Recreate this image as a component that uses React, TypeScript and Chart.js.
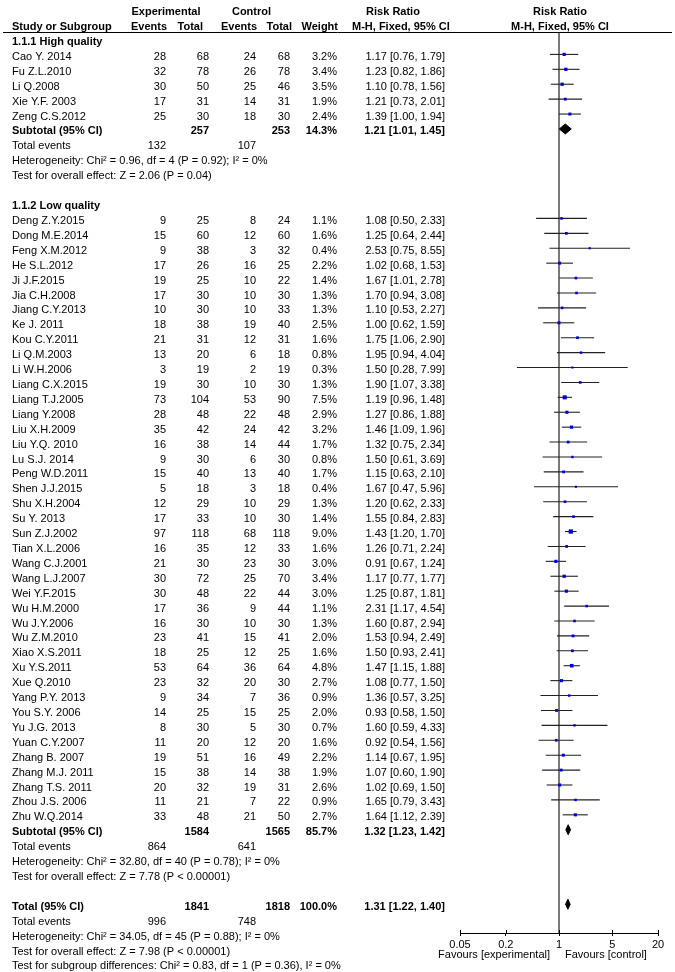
import { useEffect, useRef } from "react";
import { Chart, registerables } from "chart.js";

Chart.register(...registerables);

// ---------- data ----------
const groupLabels = ["1.1.1 High quality", "1.1.2 Low quality"];

const studyNames = [
  "Cao Y. 2014", "Fu Z.L.2010", "Li Q.2008", "Xie Y.F. 2003", "Zeng C.S.2012",
  "Deng Z.Y.2015", "Dong M.E.2014", "Feng X.M.2012", "He S.L.2012", "Ji J.F.2015",
  "Jia C.H.2008", "Jiang C.Y.2013", "Ke J. 2011", "Kou C.Y.2011", "Li Q.M.2003",
  "Li W.H.2006", "Liang C.X.2015", "Liang T.J.2005", "Liang Y.2008", "Liu X.H.2009",
  "Liu Y.Q. 2010", "Lu S.J. 2014", "Peng W.D.2011", "Shen J.J.2015", "Shu X.H.2004",
  "Su Y. 2013", "Sun Z.J.2002", "Tian X.L.2006", "Wang C.J.2001", "Wang L.J.2007",
  "Wei Y.F.2015", "Wu H.M.2000", "Wu J.Y.2006", "Wu Z.M.2010", "Xiao X.S.2011",
  "Xu Y.S.2011", "Xue Q.2010", "Yang P.Y. 2013", "You S.Y. 2006", "Yu J.G. 2013",
  "Yuan C.Y.2007", "Zhang B. 2007", "Zhang M.J. 2011", "Zhang T.S. 2011", "Zhou J.S. 2006",
  "Zhu W.Q.2014",
];
const studyGroup = [
  0, 0, 0, 0, 0,
  1, 1, 1, 1, 1, 1, 1, 1, 1, 1, 1, 1, 1, 1, 1, 1, 1, 1, 1, 1, 1,
  1, 1, 1, 1, 1, 1, 1, 1, 1, 1, 1, 1, 1, 1, 1, 1, 1, 1, 1, 1,
];
const expEvents = [
  28, 32, 30, 17, 25,
  9, 15, 9, 17, 19, 17, 10, 18, 21, 13, 3, 19, 73, 28, 35, 16, 9, 15, 5, 12, 17,
  97, 16, 21, 30, 30, 17, 16, 23, 18, 53, 23, 9, 14, 8, 11, 19, 15, 20, 11, 33,
];
const expTotals = [
  68, 78, 50, 31, 30,
  25, 60, 38, 26, 25, 30, 30, 38, 31, 20, 19, 30, 104, 48, 42, 38, 30, 40, 18, 29, 33,
  118, 35, 30, 72, 48, 36, 30, 41, 25, 64, 32, 34, 25, 30, 20, 51, 38, 32, 21, 48,
];
const ctrlEvents = [
  24, 26, 25, 14, 18,
  8, 12, 3, 16, 10, 10, 10, 19, 12, 6, 2, 10, 53, 22, 24, 14, 6, 13, 3, 10, 10,
  68, 12, 23, 25, 22, 9, 10, 15, 12, 36, 20, 7, 15, 5, 12, 16, 14, 19, 7, 21,
];
const ctrlTotals = [
  68, 78, 46, 31, 30,
  24, 60, 32, 25, 22, 30, 33, 40, 31, 18, 19, 30, 90, 48, 42, 44, 30, 40, 18, 29, 30,
  118, 33, 30, 70, 44, 44, 30, 41, 25, 64, 30, 36, 25, 30, 20, 49, 38, 31, 22, 50,
];
const weights = [
  3.2, 3.4, 3.5, 1.9, 2.4,
  1.1, 1.6, 0.4, 2.2, 1.4, 1.3, 1.3, 2.5, 1.6, 0.8, 0.3, 1.3, 7.5, 2.9, 3.2, 1.7, 0.8, 1.7, 0.4, 1.3, 1.4,
  9.0, 1.6, 3.0, 3.4, 3.0, 1.1, 1.3, 2.0, 1.6, 4.8, 2.7, 0.9, 2.0, 0.7, 1.6, 2.2, 1.9, 2.6, 0.9, 2.7,
];
const riskRatios = [
  1.17, 1.23, 1.10, 1.21, 1.39,
  1.08, 1.25, 2.53, 1.02, 1.67, 1.70, 1.10, 1.00, 1.75, 1.95, 1.50, 1.90, 1.19, 1.27, 1.46, 1.32, 1.50, 1.15, 1.67, 1.20, 1.55,
  1.43, 1.26, 0.91, 1.17, 1.25, 2.31, 1.60, 1.53, 1.50, 1.47, 1.08, 1.36, 0.93, 1.60, 0.92, 1.14, 1.07, 1.02, 1.65, 1.64,
];
const ciLower = [
  0.76, 0.82, 0.78, 0.73, 1.00,
  0.50, 0.64, 0.75, 0.68, 1.01, 0.94, 0.53, 0.62, 1.06, 0.94, 0.28, 1.07, 0.96, 0.86, 1.09, 0.75, 0.61, 0.63, 0.47, 0.62, 0.84,
  1.20, 0.71, 0.67, 0.77, 0.87, 1.17, 0.87, 0.94, 0.93, 1.15, 0.77, 0.57, 0.58, 0.59, 0.54, 0.67, 0.60, 0.69, 0.79, 1.12,
];
const ciUpper = [
  1.79, 1.86, 1.56, 2.01, 1.94,
  2.33, 2.44, 8.55, 1.53, 2.78, 3.08, 2.27, 1.59, 2.90, 4.04, 7.99, 3.38, 1.48, 1.88, 1.96, 2.34, 3.69, 2.10, 5.96, 2.33, 2.83,
  1.70, 2.24, 1.24, 1.77, 1.81, 4.54, 2.94, 2.49, 2.41, 1.88, 1.50, 3.25, 1.50, 4.33, 1.56, 1.95, 1.90, 1.50, 3.43, 2.39,
];

const subtotalExpTotals = [257, 1584];
const subtotalCtrlTotals = [253, 1565];
const subtotalWeights = [14.3, 85.7];
const subtotalRR = [1.21, 1.32];
const subtotalLower = [1.01, 1.23];
const subtotalUpper = [1.45, 1.42];
const subtotalExpEvents = [132, 864];
const subtotalCtrlEvents = [107, 641];
const heterogeneityTexts = [
  "Heterogeneity: Chi\u00b2 = 0.96, df = 4 (P = 0.92); I\u00b2 = 0%",
  "Heterogeneity: Chi\u00b2 = 32.80, df = 40 (P = 0.78); I\u00b2 = 0%",
];
const overallEffectTexts = [
  "Test for overall effect: Z = 2.06 (P = 0.04)",
  "Test for overall effect: Z = 7.78 (P < 0.00001)",
];

const totalExpTotal = 1841;
const totalCtrlTotal = 1818;
const totalWeight = 100.0;
const totalRR = 1.31;
const totalLower = 1.22;
const totalUpper = 1.40;
const totalExpEvents = 996;
const totalCtrlEvents = 748;
const totalHeterogeneity = "Heterogeneity: Chi\u00b2 = 34.05, df = 45 (P = 0.88); I\u00b2 = 0%";
const totalOverall = "Test for overall effect: Z = 7.98 (P < 0.00001)";
const subgroupDiffText = "Test for subgroup differences: Chi\u00b2 = 0.83, df = 1 (P = 0.36), I\u00b2 = 0%";

const axisTicks = [0.05, 0.2, 1, 5, 20];
const favoursLeft = "Favours [experimental]";
const favoursRight = "Favours [control]";

// ---------- layout ----------
const FONT = '"Liberation Sans", Arial, sans-serif';
const ROW0 = 39.5;
const ROW_PX = 14.91;
const AREA_TOP = 32;
const AREA_BOTTOM = 933;
const Y_MIN = (AREA_TOP - ROW0) / ROW_PX;
const Y_MAX = (AREA_BOTTOM - ROW0) / ROW_PX;
const DIAMOND_H = 5 / ROW_PX;

const COL = { name: 12, expE: 166, expT: 209, ctlE: 256, ctlT: 290, w: 337, ci: 445 };

type Cell = { t: string; x: number; a: CanvasTextAlign; b?: boolean };
type Row = { r: number; cells: Cell[] };

const fmtCI = (rr: number, lo: number, hi: number) =>
  `${rr.toFixed(2)} [${lo.toFixed(2)}, ${hi.toFixed(2)}]`;
const fmtW = (w: number) => `${w.toFixed(1)}%`;

const rows: Row[] = [];
const studyRows: number[] = [];
const diamondRows: { r: number; rr: number; lo: number; hi: number }[] = [];

rows.push({
  r: -2,
  cells: [
    { t: "Experimental", x: 166, a: "center", b: true },
    { t: "Control", x: 251.5, a: "center", b: true },
    { t: "Risk Ratio", x: 393, a: "center", b: true },
    { t: "Risk Ratio", x: 560, a: "center", b: true },
  ],
});
rows.push({
  r: -1,
  cells: [
    { t: "Study or Subgroup", x: 12, a: "left", b: true },
    { t: "Events", x: 167, a: "right", b: true },
    { t: "Total", x: 203, a: "right", b: true },
    { t: "Events", x: 257, a: "right", b: true },
    { t: "Total", x: 292, a: "right", b: true },
    { t: "Weight", x: 338, a: "right", b: true },
    { t: "M-H, Fixed, 95% CI", x: 352, a: "left", b: true },
    { t: "M-H, Fixed, 95% CI", x: 560, a: "center", b: true },
  ],
});

let cur = 0;
groupLabels.forEach((label, g) => {
  rows.push({ r: cur, cells: [{ t: label, x: COL.name, a: "left", b: true }] });
  cur++;
  studyNames.forEach((name, i) => {
    if (studyGroup[i] !== g) return;
    studyRows[i] = cur;
    rows.push({
      r: cur,
      cells: [
        { t: name, x: COL.name, a: "left" },
        { t: String(expEvents[i]), x: COL.expE, a: "right" },
        { t: String(expTotals[i]), x: COL.expT, a: "right" },
        { t: String(ctrlEvents[i]), x: COL.ctlE, a: "right" },
        { t: String(ctrlTotals[i]), x: COL.ctlT, a: "right" },
        { t: fmtW(weights[i]), x: COL.w, a: "right" },
        { t: fmtCI(riskRatios[i], ciLower[i], ciUpper[i]), x: COL.ci, a: "right" },
      ],
    });
    cur++;
  });
  diamondRows.push({ r: cur, rr: subtotalRR[g], lo: subtotalLower[g], hi: subtotalUpper[g] });
  rows.push({
    r: cur,
    cells: [
      { t: "Subtotal (95% CI)", x: COL.name, a: "left", b: true },
      { t: String(subtotalExpTotals[g]), x: COL.expT, a: "right", b: true },
      { t: String(subtotalCtrlTotals[g]), x: COL.ctlT, a: "right", b: true },
      { t: fmtW(subtotalWeights[g]), x: COL.w, a: "right", b: true },
      { t: fmtCI(subtotalRR[g], subtotalLower[g], subtotalUpper[g]), x: COL.ci, a: "right", b: true },
    ],
  });
  cur++;
  rows.push({
    r: cur,
    cells: [
      { t: "Total events", x: COL.name, a: "left" },
      { t: String(subtotalExpEvents[g]), x: COL.expE, a: "right" },
      { t: String(subtotalCtrlEvents[g]), x: COL.ctlE, a: "right" },
    ],
  });
  cur++;
  rows.push({ r: cur, cells: [{ t: heterogeneityTexts[g], x: COL.name, a: "left" }] });
  cur++;
  rows.push({ r: cur, cells: [{ t: overallEffectTexts[g], x: COL.name, a: "left" }] });
  cur++;
  cur++; // blank line
});

diamondRows.push({ r: cur, rr: totalRR, lo: totalLower, hi: totalUpper });
rows.push({
  r: cur,
  cells: [
    { t: "Total (95% CI)", x: COL.name, a: "left", b: true },
    { t: String(totalExpTotal), x: COL.expT, a: "right", b: true },
    { t: String(totalCtrlTotal), x: COL.ctlT, a: "right", b: true },
    { t: fmtW(totalWeight), x: COL.w, a: "right", b: true },
    { t: fmtCI(totalRR, totalLower, totalUpper), x: COL.ci, a: "right", b: true },
  ],
});
cur++;
rows.push({
  r: cur,
  cells: [
    { t: "Total events", x: COL.name, a: "left" },
    { t: String(totalExpEvents), x: COL.expE, a: "right" },
    { t: String(totalCtrlEvents), x: COL.ctlE, a: "right" },
  ],
});
cur++;
rows.push({ r: cur, cells: [{ t: totalHeterogeneity, x: COL.name, a: "left" }] });
cur++;
rows.push({ r: cur, cells: [{ t: totalOverall, x: COL.name, a: "left" }] });
cur++;
rows.push({ r: cur, cells: [{ t: subgroupDiffText, x: COL.name, a: "left" }] });

const squareRadius = (w: number) => (1.6 + 0.9 * Math.sqrt(w)) / Math.SQRT2;

const tablePlugin = {
  id: "forestTable",
  afterDraw(chart: any) {
    const ctx: CanvasRenderingContext2D = chart.ctx;
    const ys = chart.scales.y;
    const xs = chart.scales.x;
    const area = chart.chartArea;
    ctx.save();
    ctx.fillStyle = "#000";
    ctx.textBaseline = "middle";
    rows.forEach((row) => {
      const py = ys.getPixelForValue(row.r) + 2.5;
      row.cells.forEach((c) => {
        ctx.font = `${c.b ? "bold " : ""}11px ${FONT}`;
        ctx.textAlign = c.a;
        ctx.fillText(c.t, c.x, py);
      });
    });
    // header rule
    ctx.strokeStyle = "#000";
    ctx.lineWidth = 1;
    ctx.beginPath();
    ctx.moveTo(3, Math.round(area.top) + 0.5);
    ctx.lineTo(672, Math.round(area.top) + 0.5);
    ctx.stroke();
    // upward halves of axis ticks
    ctx.beginPath();
    axisTicks.forEach((v) => {
      const px = Math.round(xs.getPixelForValue(v)) + 0.5;
      ctx.moveTo(px, area.bottom - 3);
      ctx.lineTo(px, area.bottom);
    });
    ctx.stroke();
    // favours labels
    const one = xs.getPixelForValue(1);
    ctx.font = `11px ${FONT}`;
    ctx.textAlign = "right";
    ctx.fillText(favoursLeft, one - 9, area.bottom + 21.5);
    ctx.textAlign = "left";
    ctx.fillText(favoursRight, one + 6, area.bottom + 21.5);
    ctx.restore();
  },
};

export default function App() {
  const ref = useRef<HTMLCanvasElement>(null);
  useEffect(() => {
    document.body.style.margin = "0";
    const canvas = ref.current;
    if (!canvas) return;

    const datasets: any[] = [];
    // squares (first = drawn on top)
    datasets.push({
      data: studyNames.map((_, i) => ({ x: riskRatios[i], y: studyRows[i] })),
      pointStyle: "rect",
      pointRadius: (c: any) => squareRadius(weights[c.dataIndex] ?? 1),
      pointBackgroundColor: "#0000dd",
      pointBorderWidth: 0,
      showLine: false,
    });
    diamondRows.forEach((d) => {
      datasets.push({
        data: [
          { x: d.lo, y: d.r },
          { x: d.rr, y: d.r - DIAMOND_H },
          { x: d.hi, y: d.r },
          { x: d.rr, y: d.r + DIAMOND_H },
          { x: d.lo, y: d.r },
        ],
        showLine: true,
        fill: "shape",
        backgroundColor: "#000",
        borderColor: "#000",
        borderWidth: 1,
        pointRadius: 0,
        tension: 0,
      });
    });
    studyNames.forEach((_, i) => {
      datasets.push({
        data: [
          { x: ciLower[i], y: studyRows[i] },
          { x: ciUpper[i], y: studyRows[i] },
        ],
        showLine: true,
        borderColor: "#222",
        borderWidth: 1.1,
        pointRadius: 0,
      });
    });
    // line of no effect
    datasets.push({
      data: [
        { x: 1, y: Y_MIN },
        { x: 1, y: Y_MAX },
      ],
      showLine: true,
      borderColor: "#222",
      borderWidth: 1.2,
      pointRadius: 0,
    });

    const chart = new Chart(canvas, {
      type: "scatter",
      data: { datasets },
      options: {
        animation: false,
        responsive: false,
        events: [],
        layout: { padding: { left: 460, right: 17, top: AREA_TOP, bottom: 0 } },
        plugins: {
          legend: { display: false },
          tooltip: { enabled: false },
        },
        scales: {
          x: {
            type: "logarithmic",
            position: "bottom",
            min: 0.05,
            max: 20,
            afterBuildTicks: (s: any) => {
              s.ticks = axisTicks.map((v) => ({ value: v }));
            },
            afterFit: (s: any) => {
              s.height = 972 - AREA_BOTTOM;
            },
            ticks: {
              autoSkip: false,
              maxRotation: 0,
              padding: 2,
              color: "#000",
              font: { family: FONT, size: 11 },
              callback: (v: any) => String(v),
            },
            grid: {
              display: true,
              drawOnChartArea: false,
              drawTicks: true,
              tickLength: 3,
              color: "#000",
              lineWidth: 1,
            },
            border: { display: true, color: "#000", width: 1 },
          },
          y: {
            type: "linear",
            reverse: true,
            min: Y_MIN,
            max: Y_MAX,
            display: false,
          },
        },
      } as any,
      plugins: [tablePlugin],
    });
    return () => chart.destroy();
  }, []);
  return (
    <canvas
      ref={ref}
      width={675}
      height={972}
      style={{ display: "block", width: 675, height: 972 }}
    />
  );
}
